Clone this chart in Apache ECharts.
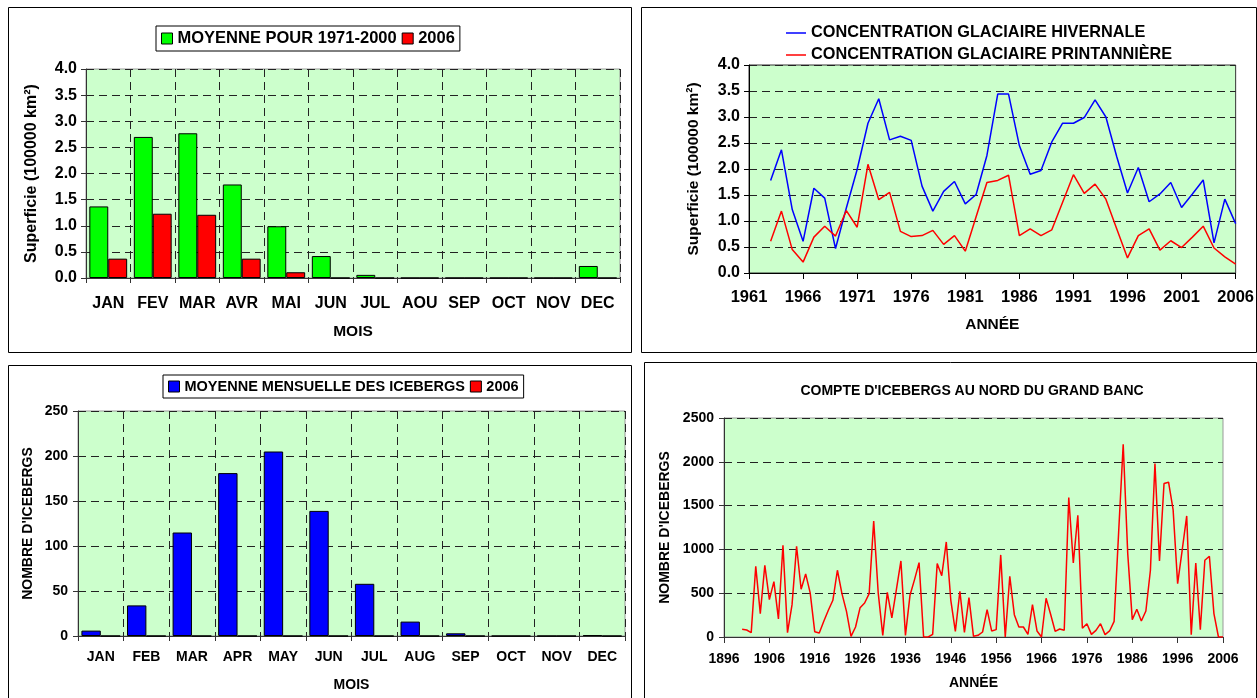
<!DOCTYPE html>
<html><head><meta charset="utf-8">
<script src="https://cdn.jsdelivr.net/npm/echarts@6/dist/echarts.min.js"></script>
<style>html,body{margin:0;padding:0;background:#fff}#c{width:1257px;height:698px}</style>
</head><body><div id="c"></div>
<script>
// ---- Panel 1: sea-ice area by month ----
const monthsFR = ['JAN','FEV','MAR','AVR','MAI','JUN','JUL','AOU','SEP','OCT','NOV','DEC'];
const areaMean = [1.37,2.70,2.77,1.79,0.99,0.42,0.06,0,0,0,0,0.23];
const area2006 = [0.37,1.23,1.21,0.37,0.11,0,0,0,0,0,0,0];

// ---- Panel 2: winter / spring concentration, 1961-2006 ----
const concYears = Array.from({length:46}, (_, i) => String(1961 + i));
const winterConc = [null,null,1.78,2.37,1.22,0.61,1.63,1.44,0.47,1.25,1.99,2.88,3.35,2.56,2.63,2.55,1.67,1.19,1.57,1.76,1.33,1.51,2.26,3.44,3.44,2.45,1.90,1.97,2.52,2.88,2.88,2.99,3.33,3.00,2.24,1.54,2.03,1.37,1.52,1.74,1.26,1.52,1.79,0.58,1.42,0.95];
const springConc = [null,null,0.61,1.19,0.45,0.21,0.69,0.90,0.71,1.20,0.88,2.09,1.41,1.55,0.80,0.70,0.72,0.82,0.55,0.72,0.42,1.08,1.74,1.78,1.88,0.72,0.85,0.72,0.83,1.36,1.89,1.53,1.71,1.42,0.85,0.29,0.72,0.85,0.44,0.62,0.49,0.69,0.90,0.48,0.31,0.17];

// ---- Panel 3: monthly mean icebergs ----
const monthsEN = ['JAN','FEB','MAR','APR','MAY','JUN','JUL','AUG','SEP','OCT','NOV','DEC'];
const bergMean = [6,34,115,181,205,139,58,16,3,0,0,1];
const berg2006 = [0,0,0,0,0,0,0,0,0,0,0,0];

// ---- Panel 4: iceberg count, 1896-2006 ----
const countYears = Array.from({length:111}, (_, i) => String(1896 + i));
const bergCount = [null,null,null,null,
 88,80,50,807,267,819,427,632,206,1047,
 50,369,1036,545,720,503,61,46,179,305,
 419,762,495,293,8,114,335,388,495,1325,
 500,19,510,217,540,868,19,476,655,849,
 0,0,30,838,700,1085,419,65,522,53,
 450,8,19,57,312,69,84,937,0,693,
 255,114,114,30,369,69,0,442,259,65,
 91,76,1592,845,1390,99,152,30,76,152,
 27,69,179,1200,2201,952,198,316,183,297,
 762,1980,868,1752,1767,1455,609,990,1382,27,
 845,84,876,922,267,0,0];

const FONT = 'Liberation Sans';
const dash = [8,5];
function txt(size){ return {fontFamily:FONT, fontWeight:'bold', fontSize:size, color:'#000'}; }

const chart = echarts.init(document.getElementById('c'), null, {renderer:'canvas'});

const option = {
  animation:false,
  backgroundColor:'#fff',
  textStyle:{fontFamily:FONT},
  title:[{
    text:"COMPTE D'ICEBERGS AU NORD DU GRAND BANC",
    left:972, top:384, textAlign:'center', padding:0,
    textStyle:txt(14)
  }],
  legend:[
    {data:['MOYENNE POUR 1971-2000','2006a'], left:156, top:26, orient:'horizontal',
     formatter:n => n === '2006a' ? '2006' : n,
     icon:'rect', itemWidth:11, itemHeight:11, itemGap:5, padding:[4,5,4,5],
     borderColor:'#000', borderWidth:1, textStyle:txt(16.5), selectedMode:false,
     itemStyle:{borderColor:'#000', borderWidth:1}},
    {data:['CONCENTRATION GLACIAIRE HIVERNALE','CONCENTRATION GLACIAIRE PRINTANNIÈRE'], left:781, top:20, orient:'vertical',
     icon:'rect', itemWidth:20, itemHeight:1.5, itemGap:6, textStyle:txt(16.3), selectedMode:false},
    {data:['MOYENNE MENSUELLE DES ICEBERGS','2006b'], left:163, top:375, orient:'horizontal',
     formatter:n => n === '2006b' ? '2006' : n,
     icon:'rect', itemWidth:11, itemHeight:11, itemGap:5, padding:[4,5,4,5],
     borderColor:'#000', borderWidth:1, textStyle:txt(14.5), selectedMode:false,
     itemStyle:{borderColor:'#000', borderWidth:1}}
  ],
  grid:[
    {left:86, top:69, width:534, height:209, show:true, backgroundColor:'#CCFFCC', borderColor:'#999', borderWidth:1},
    {left:749, top:65, width:487, height:208, show:true, backgroundColor:'#CCFFCC', borderColor:'#333', borderWidth:1},
    {left:78, top:411, width:547, height:225, show:true, backgroundColor:'#CCFFCC', borderColor:'#999', borderWidth:1},
    {left:724, top:418, width:499, height:219, show:true, backgroundColor:'#CCFFCC', borderColor:'#999', borderWidth:1}
  ],
  xAxis:[
    {gridIndex:0, type:'category', data:monthsFR, boundaryGap:true,
     name:'MOIS', nameLocation:'middle', nameGap:46, nameTextStyle:txt(15.5),
     axisLine:{lineStyle:{color:'#333'}}, axisTick:{show:true, length:5, interval:0, lineStyle:{color:'#333'}},
     axisLabel:{...txt(16), margin:18, interval:0},
     splitLine:{show:true, interval:0, lineStyle:{color:'#222', type:dash}}},
    {gridIndex:1, type:'category', data:concYears, boundaryGap:false,
     name:'ANNÉE', nameLocation:'middle', nameGap:44, nameTextStyle:txt(15.5),
     axisLine:{lineStyle:{color:'#000'}}, axisTick:{show:true, length:6, interval:4, lineStyle:{color:'#000'}},
     axisLabel:{...txt(16.5), margin:16, interval:4},
     splitLine:{show:false}},
    {gridIndex:2, type:'category', data:monthsEN, boundaryGap:true,
     name:'MOIS', nameLocation:'middle', nameGap:42, nameTextStyle:txt(14),
     axisLine:{lineStyle:{color:'#333'}}, axisTick:{show:true, length:5, interval:0, lineStyle:{color:'#333'}},
     axisLabel:{...txt(14), margin:14, interval:0},
     splitLine:{show:true, interval:0, lineStyle:{color:'#222', type:dash}}},
    {gridIndex:3, type:'category', data:countYears, boundaryGap:false,
     name:'ANNÉE', nameLocation:'middle', nameGap:39, nameTextStyle:txt(14),
     axisLine:{lineStyle:{color:'#333'}}, axisTick:{show:true, length:6, interval:9, lineStyle:{color:'#333'}},
     axisLabel:{...txt(14), margin:15, interval:9},
     splitLine:{show:false}}
  ],
  yAxis:[
    {gridIndex:0, type:'value', min:0, max:4, interval:0.5,
     name:'Superficie (100000 km²)', nameLocation:'middle', nameRotate:90, nameGap:46, nameTextStyle:txt(16),
     axisLine:{show:true, lineStyle:{color:'#333'}}, axisTick:{show:true, length:5, lineStyle:{color:'#333'}},
     axisLabel:{...txt(16), margin:9, formatter:v => v.toFixed(1)},
     splitLine:{show:true, lineStyle:{color:'#222', type:dash}}},
    {gridIndex:1, type:'value', min:0, max:4, interval:0.5,
     name:'Superficie (100000 km²)', nameLocation:'middle', nameRotate:90, nameGap:47, nameTextStyle:txt(15.5),
     axisLine:{show:true, lineStyle:{color:'#000'}}, axisTick:{show:true, length:5, lineStyle:{color:'#000'}},
     axisLabel:{...txt(16), margin:9, formatter:v => v.toFixed(1)},
     splitLine:{show:true, lineStyle:{color:'#222', type:dash}}},
    {gridIndex:2, type:'value', min:0, max:250, interval:50,
     name:"NOMBRE D'ICEBERGS", nameLocation:'middle', nameRotate:90, nameGap:43, nameTextStyle:txt(14),
     axisLine:{show:true, lineStyle:{color:'#333'}}, axisTick:{show:true, length:5, lineStyle:{color:'#333'}},
     axisLabel:{...txt(14), margin:10},
     splitLine:{show:true, lineStyle:{color:'#222', type:dash}}},
    {gridIndex:3, type:'value', min:0, max:2500, interval:500,
     name:"NOMBRE D'ICEBERGS", nameLocation:'middle', nameRotate:90, nameGap:52, nameTextStyle:txt(14),
     axisLine:{show:true, lineStyle:{color:'#333'}}, axisTick:{show:true, length:5, lineStyle:{color:'#333'}},
     axisLabel:{...txt(14), margin:10, formatter:v => String(v)},
     splitLine:{show:true, lineStyle:{color:'#222', type:dash}}}
  ],
  series:[
    {name:'MOYENNE POUR 1971-2000', type:'bar', xAxisIndex:0, yAxisIndex:0, data:areaMean,
     barGap:'0%', barCategoryGap:'15%', itemStyle:{color:'#00FF00', borderColor:'#000', borderWidth:1}},
    {name:'2006a', type:'bar', xAxisIndex:0, yAxisIndex:0, data:area2006,
     barGap:'0%', barCategoryGap:'15%', itemStyle:{color:'#FF0000', borderColor:'#000', borderWidth:1}},
    {name:'CONCENTRATION GLACIAIRE HIVERNALE', type:'line', xAxisIndex:1, yAxisIndex:1, data:winterConc,
     symbol:'none', lineStyle:{color:'#0000FF', width:1.5}, itemStyle:{color:'#0000FF'}},
    {name:'CONCENTRATION GLACIAIRE PRINTANNIÈRE', type:'line', xAxisIndex:1, yAxisIndex:1, data:springConc,
     symbol:'none', lineStyle:{color:'#FF0000', width:1.5}, itemStyle:{color:'#FF0000'}},
    {name:'MOYENNE MENSUELLE DES ICEBERGS', type:'bar', xAxisIndex:2, yAxisIndex:2, data:bergMean,
     barGap:'0%', barCategoryGap:'15%', itemStyle:{color:'#0000FF', borderColor:'#000', borderWidth:1}},
    {name:'2006b', type:'bar', xAxisIndex:2, yAxisIndex:2, data:berg2006,
     barGap:'0%', barCategoryGap:'15%', itemStyle:{color:'#FF0000', borderColor:'#000', borderWidth:1}},
    {name:'count', type:'line', xAxisIndex:3, yAxisIndex:3, data:bergCount,
     symbol:'none', lineStyle:{color:'#FF0000', width:1.5}, itemStyle:{color:'#FF0000'}}
  ],
  graphic:[
    {type:'rect', shape:{x:8.5, y:7.5, width:623, height:345}, style:{fill:null, stroke:'#000', lineWidth:1}, silent:true},
    {type:'rect', shape:{x:641.5, y:7.5, width:615, height:345}, style:{fill:null, stroke:'#000', lineWidth:1}, silent:true},
    {type:'rect', shape:{x:8.5, y:365.5, width:623, height:345}, style:{fill:null, stroke:'#000', lineWidth:1}, silent:true},
    {type:'rect', shape:{x:644.5, y:362.5, width:612, height:345}, style:{fill:null, stroke:'#000', lineWidth:1}, silent:true}
  ]
};
chart.setOption(option);
</script>
</body></html>
